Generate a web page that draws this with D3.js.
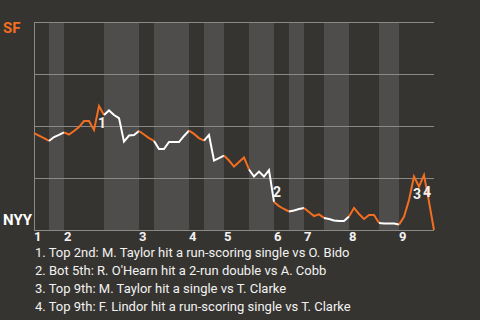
<!DOCTYPE html>
<html>
<head>
<meta charset="utf-8">
<script src="https://cdn.jsdelivr.net/npm/d3@7"></script>
<style>
    html, body { margin: 0; padding: 0; background: #363430; }
    svg { display: block; font-family: Roboto, "Noto Sans", sans-serif; }
</style>
</head>
<body>
<div id="chart"></div>
<script>
// win probability for SF after each plate appearance (0 = NYY wins, 1 = SF wins)
const winProb = [
    0.466, 0.454, 0.442, 0.428, 0.447, 0.457, 0.469, 0.459, 0.476, 0.495,
    0.524, 0.524, 0.481, 0.596, 0.553, 0.575, 0.553, 0.538, 0.425, 0.454,
    0.457, 0.476, 0.459, 0.442, 0.428, 0.389, 0.389, 0.423, 0.423, 0.423,
    0.452, 0.478, 0.462, 0.442, 0.430, 0.457, 0.334, 0.346, 0.358, 0.334,
    0.305, 0.327, 0.349, 0.291, 0.257, 0.281, 0.257, 0.288, 0.135, 0.115,
    0.101, 0.089, 0.094, 0.101, 0.106, 0.087, 0.067, 0.075, 0.058, 0.053,
    0.046, 0.043, 0.043, 0.065, 0.106, 0.077, 0.053, 0.072, 0.072, 0.034,
    0.031, 0.031, 0.031, 0.026, 0.063, 0.144, 0.257, 0.209, 0.264, 0.135,
    0.000
];
// plate appearances in each half inning (top 1st, bot 1st, top 2nd, ...)
const halfInningPlays = [3, 3, 8, 7, 3, 7, 3, 4, 5, 5, 3, 3, 4, 5, 6, 4, 7];
const inningLabels = ['1', '2', '3', '4', '5', '6', '7', '8', '9'];
const teams = ['SF', 'NYY'];
const yTicks = [0, 0.25, 0.5, 0.75, 1];
const annotations = [
    {play: 13, text: 'Top 2nd: M. Taylor hit a run-scoring single vs O. Bido'},
    {play: 48, text: "Bot 5th: R. O'Hearn hit a 2-run double vs A. Cobb"},
    {play: 76, text: 'Top 9th: M. Taylor hit a single vs T. Clarke'},
    {play: 78, text: 'Top 9th: F. Lindor hit a run-scoring single vs T. Clarke'}
];

const colors = {
    bg: '#363430',
    band: '#4f4d4b',
    grid: '#8a8987',
    away: '#f26e21',
    home: '#ffffff',
    text: '#f2f2f2'
};

const width = 480, height = 320;
const margin = {top: 22, right: 46, bottom: 90, left: 34};

const svg = d3.select('#chart')
    .append('svg')
    .attr('width', width)
    .attr('height', height);

svg.append('rect')
    .attr('width', width)
    .attr('height', height)
    .attr('fill', colors.bg);

const x = d3.scaleLinear()
    .domain([0, winProb.length - 1])
    .range([margin.left, width - margin.right]);
const y = d3.scaleLinear()
    .domain([0, 1])
    .range([height - margin.bottom, margin.top]);

// half inning boundaries as play indexes
const bounds = [0];
halfInningPlays.forEach(n => bounds.push(bounds[bounds.length - 1] + n));
const halves = halfInningPlays.map((n, i) => ({start: bounds[i], end: bounds[i + 1], top: i % 2 === 0}));

// bottom halves are shaded
svg.append('g')
    .selectAll('rect')
    .data(halves.filter(d => !d.top))
    .join('rect')
    .attr('x', d => x(d.start))
    .attr('y', y(1))
    .attr('width', d => x(d.end) - x(d.start))
    .attr('height', y(0) - y(1))
    .attr('fill', colors.band);

// grid lines
svg.append('g')
    .call(d3.axisLeft(y).tickValues(yTicks).tickSize(-(x.range()[1] - x.range()[0])).tickFormat(''))
    .attr('transform', `translate(${margin.left},0)`)
    .call(g => g.selectAll('.tick line').attr('stroke', colors.grid).attr('stroke-width', 1))
    .call(g => g.select('.domain').attr('stroke', colors.grid).attr('d', `M0.5,${y(1)}V${y(0)}`));

// win probability line, one piece per half inning
const line = d3.line()
    .x(d => x(d.i))
    .y(d => y(d.v));

svg.append('g')
    .selectAll('path')
    .data(halves)
    .join('path')
    .attr('d', d => line(d3.range(d.start, d.end + 1).map(i => ({i: i, v: winProb[i]}))))
    .attr('fill', 'none')
    .attr('stroke', d => d.top ? colors.away : colors.home)
    .attr('stroke-width', 2)
    .attr('stroke-linejoin', 'miter');

// inning numbers under the axis
svg.append('g')
    .selectAll('text')
    .data(inningLabels)
    .join('text')
    .attr('x', (d, i) => x(bounds[i * 2]))
    .attr('y', y(0) + 11)
    .attr('fill', colors.text)
    .style('font-size', '13px')
    .style('font-weight', 'bold')
    .text(d => d);

// team labels
svg.append('text')
    .attr('x', 3)
    .attr('y', y(1) + 11)
    .attr('fill', colors.away)
    .style('font-size', '15px')
    .style('font-weight', 'bold')
    .text(teams[0]);
svg.append('text')
    .attr('x', 3)
    .attr('y', y(0) - 5)
    .attr('fill', colors.home)
    .style('font-size', '15px')
    .style('font-weight', 'bold')
    .text(teams[1]);

// numbered markers for the key plays
svg.append('g')
    .selectAll('text')
    .data(annotations)
    .join('text')
    .attr('x', d => x(d.play) + 3)
    .attr('y', d => {
        let up = winProb[d.play] > winProb[d.play - 1];
        return y(winProb[d.play]) + (up ? 17 : -10);
    })
    .attr('text-anchor', 'middle')
    .attr('dominant-baseline', 'central')
    .attr('fill', colors.text)
    .style('font-size', '14px')
    .style('font-weight', 'bold')
    .text((d, i) => i + 1);

// notes below the chart
svg.append('g')
    .selectAll('text')
    .data(annotations)
    .join('text')
    .attr('x', margin.left + 1)
    .attr('y', (d, i) => 257 + i * 18)
    .attr('fill', colors.text)
    .style('font-size', '13px')
    .text((d, i) => `${i + 1}. ${d.text}`);
</script>
</body>
</html>
